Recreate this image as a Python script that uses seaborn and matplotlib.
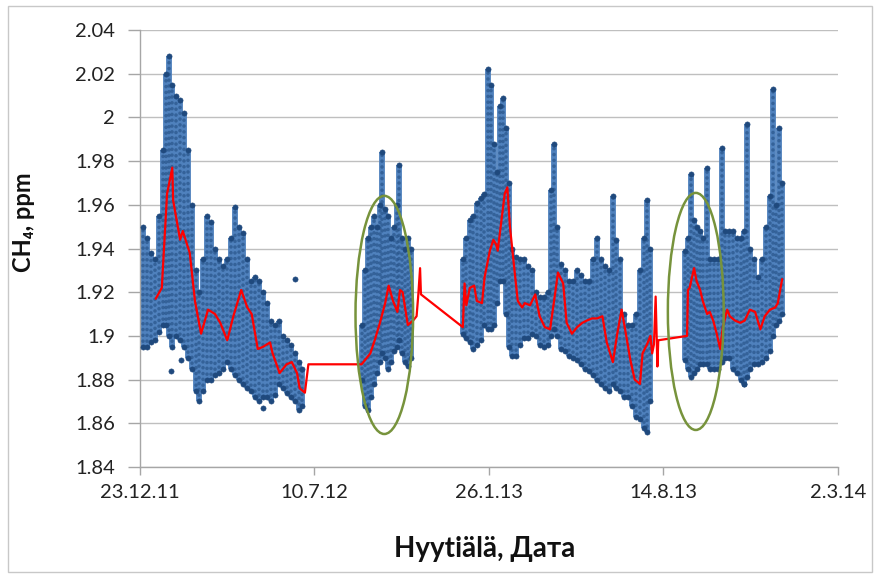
import numpy as np
import pandas as pd
import matplotlib
matplotlib.use("Agg")
import matplotlib.pyplot as plt
import matplotlib.dates as mdates
from matplotlib.patches import Ellipse, Rectangle
import seaborn as sns

# ---- data: days since 23.12.2011 ----
START = pd.Timestamp("2011-12-23")

# CH4 concentration spread per time step (low / high edge of the measurements)
band_days = [3, 8, 13, 17, 22, 26, 30, 33, 37, 41, 46, 50, 55, 60, 64, 68, 72, 77, 81, 86,
             91, 95, 100, 104, 109, 113, 118, 123, 127, 132, 136, 141, 146, 150, 155, 159,
             164, 168, 173, 178, 182, 186,
             254, 258, 261, 265, 268, 272, 275, 277, 281, 284, 288, 291, 295, 297, 300, 304,
             307, 311,
             370, 374, 378, 382, 386, 391, 394, 399, 402, 406, 409, 413, 416, 419, 423, 426,
             431, 436, 440, 445, 449, 454, 458, 463, 468, 471, 474, 478, 482, 487, 492, 496,
             501, 505, 510, 515, 519, 524, 528, 533, 538, 542, 546, 550, 555, 559, 564, 569,
             573, 578, 581, 585,
             625, 628, 632, 635, 638, 642, 645, 650, 653, 658, 662, 667, 670, 675, 680, 684,
             689, 692, 696, 699, 704, 708, 713, 717, 722, 725, 729, 732, 736]
band_low = [1.895, 1.895, 1.897, 1.898, 1.902, 1.905, 1.905, 1.900, 1.895, 1.900, 1.898, 1.895,
            1.890, 1.885, 1.875, 1.870, 1.875, 1.880, 1.880, 1.882, 1.883, 1.885, 1.888, 1.885,
            1.882, 1.880, 1.878, 1.876, 1.875, 1.872, 1.870, 1.872, 1.872, 1.870, 1.873, 1.878,
            1.876, 1.874, 1.872, 1.870, 1.866, 1.868,
            1.880, 1.868, 1.866, 1.872, 1.878, 1.883, 1.888, 1.892, 1.890, 1.885, 1.888, 1.893,
            1.895, 1.898, 1.892, 1.888, 1.886, 1.890,
            1.901, 1.899, 1.897, 1.894, 1.896, 1.898, 1.905, 1.903, 1.903, 1.905, 1.915, 1.925,
            1.925, 1.910, 1.895, 1.891, 1.891, 1.896, 1.899, 1.899, 1.901, 1.900, 1.896, 1.895,
            1.896, 1.900, 1.903, 1.900, 1.894, 1.893, 1.891, 1.890, 1.889, 1.887, 1.885, 1.884,
            1.882, 1.880, 1.878, 1.876, 1.875, 1.878, 1.876, 1.875, 1.872, 1.872, 1.868, 1.863,
            1.862, 1.858, 1.856, 1.870,
            1.889, 1.885, 1.881, 1.883, 1.885, 1.887, 1.887, 1.887, 1.885, 1.885, 1.885, 1.888,
            1.890, 1.890, 1.885, 1.883, 1.880, 1.878, 1.881, 1.885, 1.887, 1.887, 1.888, 1.890,
            1.893, 1.900, 1.905, 1.907, 1.910]
band_high = [1.950, 1.945, 1.938, 1.935, 1.955, 1.985, 2.020, 2.028, 2.015, 2.010, 2.008, 2.002,
             1.985, 1.960, 1.930, 1.920, 1.935, 1.955, 1.952, 1.940, 1.935, 1.932, 1.935, 1.945,
             1.959, 1.950, 1.947, 1.935, 1.925, 1.927, 1.925, 1.920, 1.915, 1.907, 1.905, 1.907,
             1.900, 1.898, 1.896, 1.892, 1.888, 1.885,
             1.905, 1.930, 1.945, 1.950, 1.955, 1.950, 1.960, 1.984, 1.958, 1.955, 1.945, 1.950,
             1.960, 1.978, 1.945, 1.940, 1.945, 1.940,
             1.935, 1.945, 1.953, 1.955, 1.961, 1.963, 1.965, 2.022, 2.015, 1.988, 1.975, 2.005,
             2.009, 1.995, 1.970, 1.940, 1.936, 1.935, 1.935, 1.932, 1.930, 1.920, 1.918, 1.918,
             1.920, 1.967, 1.988, 1.950, 1.933, 1.930, 1.925, 1.925, 1.930, 1.928, 1.925, 1.925,
             1.935, 1.945, 1.935, 1.932, 1.930, 1.964, 1.944, 1.935, 1.910, 1.905, 1.905, 1.910,
             1.930, 1.945, 1.962, 1.940,
             1.939, 1.945, 1.974, 1.953, 1.950, 1.948, 1.945, 1.977, 1.935, 1.935, 1.935, 1.986,
             1.948, 1.948, 1.948, 1.945, 1.945, 1.948, 1.997, 1.940, 1.935, 1.927, 1.935, 1.950,
             1.964, 2.013, 1.960, 1.995, 1.970]

# isolated readings outside the main band
single_days = [35, 47, 141, 178, 692]
single_vals = [1.884, 1.889, 1.867, 1.926, 1.878]

# smoothed CH4 curve
trend_days = [18, 25, 31, 37, 38, 42, 46, 49, 57, 63, 70, 78, 86, 92, 100, 107, 116, 123, 128,
              135, 141, 149, 152, 160, 168, 174, 180, 183, 189, 193, 254, 258, 264, 269, 275,
              281, 285, 290, 295, 298, 301, 307, 313, 317, 319, 321, 322, 370, 372, 374, 378,
              383, 386, 392, 395, 401, 405, 408, 410, 414, 418, 421, 424, 430, 433, 438, 441,
              447, 453, 458, 464, 470, 476, 479, 485, 489, 495, 501, 507, 512, 518, 524, 530,
              535, 542, 547, 552, 556, 562, 567, 573, 576, 581, 585, 587, 589, 591, 593, 594,
              627, 628, 630, 635, 638, 642, 645, 650, 653, 657, 661, 665, 668, 673, 676, 682,
              688, 693, 699, 705, 711, 716, 722, 728, 731, 736]
trend_vals = [1.917, 1.922, 1.965, 1.977, 1.962, 1.953, 1.944, 1.948, 1.938, 1.916, 1.901, 1.912,
              1.910, 1.906, 1.898, 1.909, 1.921, 1.913, 1.910, 1.894, 1.895, 1.897, 1.892, 1.883,
              1.887, 1.888, 1.883, 1.876, 1.874, 1.887, 1.887, 1.889, 1.892, 1.898, 1.906, 1.915,
              1.923, 1.916, 1.911, 1.921, 1.920, 1.905, 1.907, 1.909, 1.919, 1.931, 1.919, 1.904,
              1.924, 1.914, 1.922, 1.923, 1.916, 1.915, 1.927, 1.939, 1.944, 1.942, 1.939, 1.952,
              1.965, 1.968, 1.950, 1.927, 1.916, 1.913, 1.915, 1.914, 1.919, 1.909, 1.904, 1.903,
              1.920, 1.929, 1.924, 1.906, 1.901, 1.904, 1.906, 1.907, 1.908, 1.908, 1.909, 1.897,
              1.888, 1.901, 1.912, 1.903, 1.889, 1.880, 1.878, 1.892, 1.896, 1.900, 1.892, 1.896,
              1.918, 1.886, 1.898, 1.900, 1.921, 1.922, 1.931, 1.925, 1.921, 1.916, 1.910, 1.911,
              1.907, 1.901, 1.894, 1.904, 1.912, 1.909, 1.907, 1.906, 1.907, 1.912, 1.911, 1.903,
              1.909, 1.912, 1.913, 1.915, 1.926]

# highlighted periods: (centre day, centre value, width in days, height in ppm)
highlight_days = [280, 637]
highlight_vals = [1.9096, 1.9112]
highlight_width = [66, 64]
highlight_height = [0.109, 0.1085]

tick_days = [0, 200, 400, 600, 800]
y_ticks = [1.84, 1.86, 1.88, 1.90, 1.92, 1.94, 1.96, 1.98, 2.00, 2.02, 2.04]


def to_date(days):
    return START + pd.to_timedelta(np.asarray(days, dtype=float), unit="D")


band = pd.DataFrame({"date": to_date(band_days), "low": band_low, "high": band_high})
edges = pd.concat([band[["date", "low"]].rename(columns={"low": "ch4"}),
                   band[["date", "high"]].rename(columns={"high": "ch4"}),
                   pd.DataFrame({"date": to_date(single_days), "ch4": single_vals})])
trend = pd.DataFrame({"date": to_date(trend_days), "ch4": trend_vals})

sns.set_theme(style="white")
plt.rcParams["font.family"] = ["Lato", "Open Sans", "DejaVu Sans"]

fig = plt.figure(figsize=(8.79, 5.78), dpi=100)
ax = fig.add_axes([140 / 879, 1 - 467 / 578, 698 / 879, 437 / 578])

navy = "#1f497d"
blue = "#4f81bd"

# measurement columns: filled band with dotted navy markers on top
ax.vlines(band["date"], band["low"], band["high"], color=blue, linewidth=4.2, zorder=2)
dots = ax.vlines(band["date"], band["low"], band["high"], color=navy, linewidth=2.6,
                 linestyles=[(0, (0.01, 1.6))], zorder=3, alpha=0.55)
dots.set_capstyle("round")
sns.scatterplot(data=edges, x="date", y="ch4", ax=ax, color=navy, s=14,
                edgecolor=navy, linewidth=0.4, zorder=4, legend=False)

# smoothed curve
sns.lineplot(data=trend, x="date", y="ch4", ax=ax, color="#ff0000", linewidth=1.6,
             sort=False, estimator=None, zorder=5)

for cd, cv, w, h in zip(highlight_days, highlight_vals, highlight_width, highlight_height):
    ax.add_patch(Ellipse((mdates.date2num(to_date([cd])[0]), cv), w, h, fill=False,
                         edgecolor="#77933c", linewidth=1.8, zorder=6))

ax.set_xlim(to_date([tick_days[0]])[0], to_date([tick_days[-1]])[0])
ax.set_ylim(1.84, 2.04)
tick_dates = to_date(tick_days)
ax.set_xticks(tick_dates)
ax.set_xticklabels([f"{d.day}.{d.month}.{d:%y}" for d in tick_dates])
ax.set_yticks(y_ticks)
ax.set_yticklabels([f"{v:g}" for v in y_ticks])

ax.grid(axis="y", color="#bfbfbf", linewidth=1.0)
ax.grid(axis="x", visible=False)
for side in ("top", "right"):
    ax.spines[side].set_visible(False)
for side in ("left", "bottom"):
    ax.spines[side].set_color("#a6a6a6")
    ax.spines[side].set_linewidth(1.0)
ax.tick_params(axis="y", direction="out", length=9, width=1, color="#a6a6a6",
               labelsize=14.5, pad=9, left=True, labelcolor="#222222")
ax.tick_params(axis="x", direction="out", length=6, width=1, color="#a6a6a6",
               labelsize=14.5, pad=6, bottom=True, labelcolor="#222222")

ax.set_xlabel("Hyytiälä, Дата", fontsize=20, fontweight="bold", color="#111111")
ax.set_ylabel("CH₄, ppm", fontsize=17, fontweight="bold", color="#111111")
ax.xaxis.set_label_coords(0.494, -0.158)
ax.yaxis.set_label_coords(-0.15, 0.56)

fig.patches.append(Rectangle((8 / 879, 6 / 578), 864 / 879, 566 / 578, transform=fig.transFigure,
                             fill=False, edgecolor="#c8c8c8", linewidth=1.0))

fig.savefig("out.png", dpi=100)
